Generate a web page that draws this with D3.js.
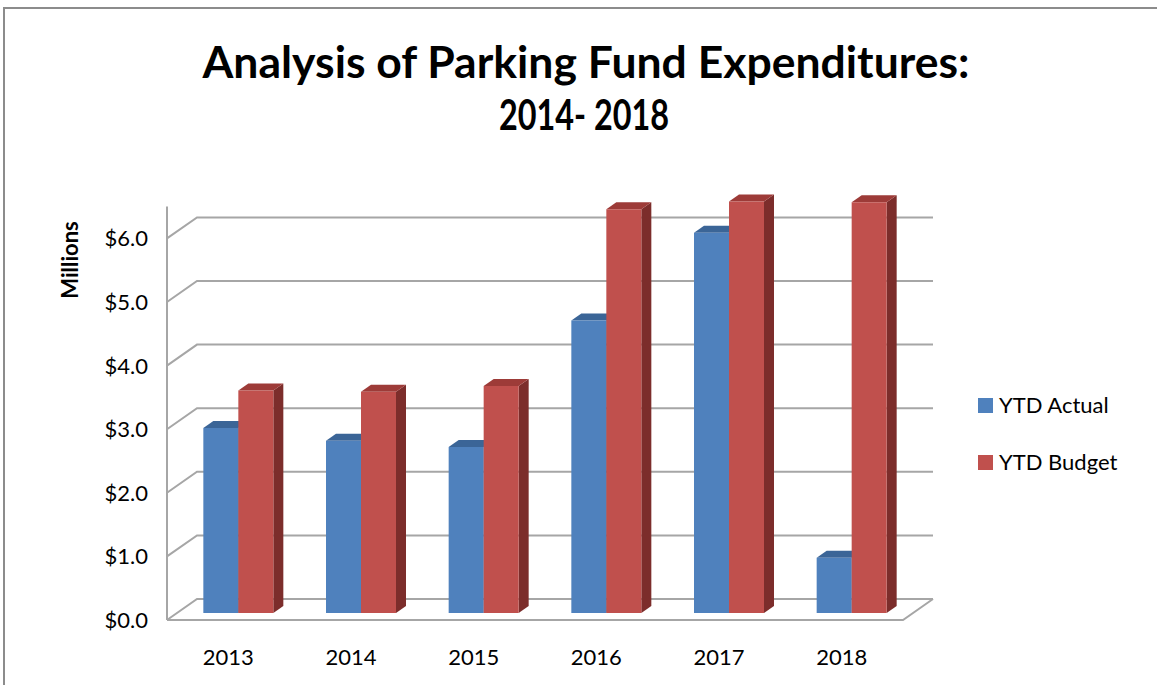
<!DOCTYPE html>
<html>
<head>
<meta charset="utf-8">
<script src="https://cdn.jsdelivr.net/npm/d3@7"></script>
<style>
  body { margin: 0; background: #fff; }
  svg { display: block; font-family: Lato, "Open Sans", sans-serif; }
</style>
</head>
<body>
<svg id="chart" width="1157" height="685"></svg>
<script>
var years = ['2013', '2014', '2015', '2016', '2017', '2018'];
var actual = [2.91, 2.71, 2.61, 4.60, 5.98, 0.87];
var budget = [3.50, 3.48, 3.57, 6.35, 6.47, 6.46];
var seriesNames = ['YTD Actual', 'YTD Budget'];
var yTicks = [0, 1, 2, 3, 4, 5, 6];
var titleLines = ['Analysis of Parking Fund Expenditures:', '2014- 2018'];

var colors = {
  'YTD Actual': { front: '#4f81bd', top: '#3b6597', side: '#2f5482' },
  'YTD Budget': { front: '#c0504d', top: '#9d3b38', side: '#7c2d2b' }
};

var svg = d3.select('#chart');

// outer border
svg.append('rect')
  .attr('x', 4).attr('y', 8)
  .attr('width', 1170).attr('height', 700)
  .attr('fill', 'none')
  .attr('stroke', '#8c8c8c')
  .attr('stroke-width', 2);

// title
svg.selectAll('text.title')
  .data(titleLines)
  .enter()
  .append('text')
  .attr('class', 'title')
  .attr('x', function(d, i) { return i == 0 ? 586 : 584; })
  .attr('y', function(d, i) { return 78 + i * 52; })
  .attr('text-anchor', 'middle')
  .attr('font-size', function(d, i) { return i == 0 ? 44 : 42; })
  .attr('font-weight', 'bold')
  .attr('textLength', function(d, i) { return i == 0 ? 767 : 170; })
  .attr('lengthAdjust', 'spacingAndGlyphs')
  .text(function(d) { return d; });

// plot geometry (front plane), plus oblique depth offset
var left = 167, right = 903;
var depthX = 30, depthY = -21;

var x = d3.scaleBand().domain(years).range([left, right]);
var xs = d3.scaleBand().domain(seriesNames).range([0, 70]);
var y = d3.scaleLinear().domain([0, 6.5]).range([620, 620 - 6.5 * 63.6]);

function p(xf, v, d) {
  return [xf + d * depthX, y(v) + d * depthY];
}
function pts(arr) {
  return arr.map(function(a) { return a.join(','); }).join(' ');
}

var grid = svg.append('g')
  .attr('stroke', '#a6a6a6')
  .attr('stroke-width', 2)
  .attr('fill', 'none');

// gridlines on side wall and back wall
grid.selectAll('polyline.grid')
  .data(yTicks)
  .enter()
  .append('polyline')
  .attr('points', function(v) {
    return pts([p(left, v, 0), p(left, v, 1), p(right, v, 1)]);
  });

// floor front + right edge
grid.append('polyline')
  .attr('points', pts([p(left, 0, 0), p(right, 0, 0), p(right, 0, 1)]));

// vertical axis line
grid.append('line')
  .attr('x1', left).attr('y1', y(0))
  .attr('x2', left).attr('y2', y(6.5));

// y tick labels
svg.selectAll('text.ytick')
  .data(yTicks)
  .enter()
  .append('text')
  .attr('class', 'ytick')
  .attr('x', 148)
  .attr('y', function(v) { return y(v) + 8; })
  .attr('text-anchor', 'end')
  .attr('font-size', 22)
  .attr('fill', '#000')
  .text(function(v) { return '$' + d3.format('.1f')(v); });

svg.append('text')
  .attr('transform', 'translate(78,260) rotate(-90)')
  .attr('text-anchor', 'middle')
  .attr('font-size', 22)
  .attr('font-weight', 'bold')
  .text('Millions');

// x labels
svg.selectAll('text.xtick')
  .data(years)
  .enter()
  .append('text')
  .attr('class', 'xtick')
  .attr('x', function(d) { return x(d) + x.bandwidth() / 2; })
  .attr('y', 665)
  .attr('text-anchor', 'middle')
  .attr('font-size', 22)
  .text(function(d) { return d; });

// bars
var bars = [];
years.forEach(function(yr, i) {
  bars.push({ year: yr, name: seriesNames[0], value: actual[i] });
  bars.push({ year: yr, name: seriesNames[1], value: budget[i] });
});

var d1 = 1 / 3, d2 = 2 / 3;
var barG = svg.selectAll('g.bar')
  .data(bars)
  .enter()
  .append('g')
  .attr('class', 'bar');

barG.each(function(b) {
  var g = d3.select(this);
  var x0 = x(b.year) + x.bandwidth() / 2 - 35 + xs(b.name);
  var x1 = x0 + xs.bandwidth();
  var c = colors[b.name];
  g.append('polygon')
    .attr('fill', c.side)
    .attr('points', pts([p(x1, 0, d1), p(x1, b.value, d1), p(x1, b.value, d2), p(x1, 0, d2)]));
  g.append('polygon')
    .attr('fill', c.top)
    .attr('points', pts([p(x0, b.value, d1), p(x1, b.value, d1), p(x1, b.value, d2), p(x0, b.value, d2)]));
  g.append('polygon')
    .attr('fill', c.front)
    .attr('points', pts([p(x0, 0, d1), p(x1, 0, d1), p(x1, b.value, d1), p(x0, b.value, d1)]));
});

// legend
var legend = svg.selectAll('g.legend')
  .data(seriesNames)
  .enter()
  .append('g')
  .attr('class', 'legend')
  .attr('transform', function(d, i) { return 'translate(978,' + (398 + i * 57) + ')'; });

legend.append('rect')
  .attr('width', 15).attr('height', 15)
  .attr('fill', function(d) { return colors[d].front; });

legend.append('text')
  .attr('x', 21)
  .attr('y', 15)
  .attr('font-size', 22)
  .text(function(d) { return d; });
</script>
</body>
</html>
